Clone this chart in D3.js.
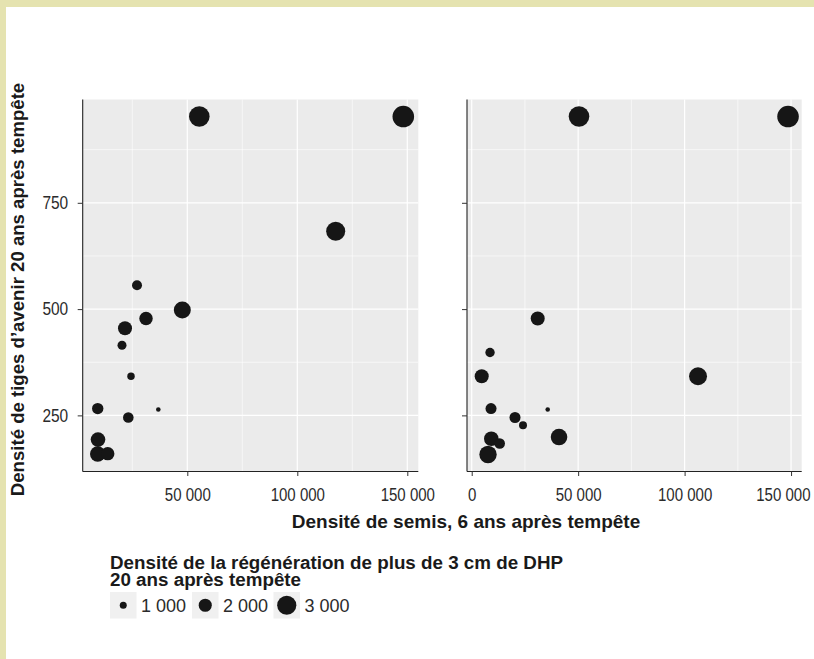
<!DOCTYPE html>
<html>
<head>
<meta charset="utf-8">
<script src="https://cdn.jsdelivr.net/npm/d3@7"></script>
<style>
  html, body { margin: 0; padding: 0; background: #ffffff; }
  svg { display: block; font-family: "Liberation Sans", Arial, Helvetica, sans-serif; }
</style>
</head>
<body>
<svg id="chart" width="814" height="659"></svg>
<script>
// Left panel: seedling density (x), future stems (y), regeneration > 3 cm DBH (size)
const leftSemis  = [55450, 148180, 117450, 47730, 27140, 31230, 21680, 20320, 24410, 36820, 9270, 23180, 9410, 9270, 13820];
const leftAvenir = [953, 953, 683, 498, 556, 478, 455, 415, 342, 264, 266, 245, 193, 159, 160];
const leftRegen  = [3230, 3390, 2970, 2640, 1490, 2050, 2150, 1330, 1070, 600, 1720, 1590, 2250, 2380, 2050];

// Right panel
const rightSemis  = [50400, 148580, 106300, 31000, 8600, 4700, 9070, 35700, 20340, 24100, 41010, 9210, 13150, 7660];
const rightAvenir = [953, 953, 342, 478, 398, 342, 266, 264, 245, 227, 199, 195, 184, 158];
const rightRegen  = [3230, 3390, 2800, 2150, 1390, 2150, 1660, 600, 1660, 1160, 2570, 2250, 1590, 2700];

// Axis breaks
const leftXTicks  = [50000, 100000, 150000];
const rightXTicks = [0, 50000, 100000, 150000];
const xMinor      = [25000, 75000, 125000];
const yTicks      = [250, 500, 750];
const yMinor      = [375, 625, 875];
const legendValues = [1000, 2000, 3000];

const yTitle = "Densité de tiges d’avenir 20 ans après tempête";
const xTitle = "Densité de semis, 6 ans après tempête";
const legendTitle = ["Densité de la régénération de plus de 3 cm de DHP", "20 ans après tempête"];

const fr = d3.formatLocale({ decimal: ",", thousands: " ", grouping: [3], currency: ["", " €"] });
const fmt = fr.format(",d");

const svg = d3.select("#chart");

// page frame
svg.append("rect").attr("x", 0).attr("y", 0).attr("width", 814).attr("height", 659).attr("fill", "#ffffff");
svg.append("rect").attr("x", 0).attr("y", 0).attr("width", 814).attr("height", 7).attr("fill", "#e5e3b0");
svg.append("rect").attr("x", 0).attr("y", 0).attr("width", 6).attr("height", 659).attr("fill", "#e5e3b0");

const plotTop = 99.5, plotBottom = 471.5;
const y = d3.scaleLinear().domain([118, 993]).range([plotBottom, plotTop]);
const r = d3.scaleLinear().domain([1000, 3000]).range([3.5, 9.6]);

const panels = [
  { left: 82.7, right: 418.3, domain: [2450, 155000], ticks: leftXTicks, semis: leftSemis, avenir: leftAvenir, regen: leftRegen, yLabels: true },
  { left: 467,  right: 801.7, domain: [-2210, 155000], ticks: rightXTicks, semis: rightSemis, avenir: rightAvenir, regen: rightRegen, yLabels: false }
];

const kx = 0.835; // horizontal narrowing of tick labels

panels.forEach(p => {
  const x = d3.scaleLinear().domain(p.domain).range([p.left, p.right]);
  const g = svg.append("g");

  g.append("rect")
    .attr("x", p.left).attr("y", plotTop)
    .attr("width", p.right - p.left).attr("height", plotBottom - plotTop)
    .attr("fill", "#ebebeb");

  // grid
  const inX = v => v >= p.domain[0] && v <= p.domain[1];
  g.selectAll(".gxm").data(xMinor.filter(inX)).join("line")
    .attr("x1", d => x(d)).attr("x2", d => x(d)).attr("y1", plotTop).attr("y2", plotBottom)
    .attr("stroke", "#ffffff").attr("stroke-width", 0.6);
  g.selectAll(".gym").data(yMinor).join("line")
    .attr("x1", p.left).attr("x2", p.right).attr("y1", d => y(d)).attr("y2", d => y(d))
    .attr("stroke", "#ffffff").attr("stroke-width", 0.6);
  g.selectAll(".gx").data(p.ticks.filter(inX)).join("line")
    .attr("x1", d => x(d)).attr("x2", d => x(d)).attr("y1", plotTop).attr("y2", plotBottom)
    .attr("stroke", "#ffffff").attr("stroke-width", 1.2);
  g.selectAll(".gy").data(yTicks).join("line")
    .attr("x1", p.left).attr("x2", p.right).attr("y1", d => y(d)).attr("y2", d => y(d))
    .attr("stroke", "#ffffff").attr("stroke-width", 1.2);

  // points
  const pts = p.semis.map((s, i) => ({ s, a: p.avenir[i], z: p.regen[i] }));
  g.selectAll("circle.pt").data(pts).join("circle")
    .attr("class", "pt")
    .attr("cx", d => x(d.s)).attr("cy", d => y(d.a)).attr("r", d => r(d.z))
    .attr("fill", "#161616");

  // x axis
  const xa = g.append("g").attr("transform", `translate(0,${plotBottom})`)
    .call(d3.axisBottom(x).tickValues(p.ticks).tickFormat(fmt).tickSize(4.5).tickPadding(12.5));
  xa.select(".domain").attr("stroke", "#222").attr("stroke-width", 1.1).attr("d", `M${p.left},0H${p.right}`);
  xa.selectAll(".tick line").attr("stroke", "#333").attr("stroke-width", 1);
  const xt = xa.selectAll(".tick text").attr("fill", "#2b2b2b").attr("font-size", 18)
    .attr("font-family", "\"Liberation Sans\", Arial, sans-serif").attr("dy", "0.71em")
    .attr("transform", `scale(${kx},1)`);
  // keep the last label inside the page
  xt.each(function (d) {
    const w = this.getComputedTextLength() * kx;
    const over = x(d) + w / 2 - 810;
    if (over > 0) d3.select(this).attr("x", -over / kx);
  });

  // y axis
  const ya = g.append("g").attr("transform", `translate(${p.left},0)`)
    .call(d3.axisLeft(y).tickValues(yTicks).tickFormat(p.yLabels ? d3.format("d") : () => "").tickSize(5).tickPadding(9.5));
  ya.select(".domain").attr("stroke", "#222").attr("stroke-width", 1.1).attr("d", `M0,${plotTop}V${plotBottom}`);
  ya.selectAll(".tick line").attr("stroke", "#333").attr("stroke-width", 1);
  const yt = ya.selectAll(".tick text").attr("fill", "#2b2b2b").attr("font-size", 18)
    .attr("font-family", "\"Liberation Sans\", Arial, sans-serif");
  yt.each(function () {
    const sel = d3.select(this);
    sel.attr("x", +sel.attr("x") / 0.86).attr("transform", "scale(0.86,1)");
  });
});

// axis titles
svg.append("text")
  .attr("transform", `translate(23.5,${(plotTop + plotBottom) / 2 + 4}) rotate(-90)`)
  .attr("text-anchor", "middle")
  .attr("font-size", 18.6).attr("font-weight", "bold").attr("fill", "#1a1a1a")
  .text(yTitle);

svg.append("text")
  .attr("x", 466).attr("y", 528)
  .attr("text-anchor", "middle")
  .attr("font-size", 19).attr("font-weight", "bold").attr("fill", "#1a1a1a")
  .text(xTitle);

// size legend
const lg = svg.append("g");
lg.append("text").attr("x", 110).attr("y", 568.5)
  .attr("font-size", 18.8).attr("font-weight", "bold").attr("fill", "#1a1a1a")
  .selectAll("tspan").data(legendTitle).join("tspan")
  .attr("x", 110).attr("dy", (d, i) => i === 0 ? 0 : 17.5)
  .text(d => d);

const keyX = [110, 192, 273.5];
legendValues.forEach((v, i) => {
  const k = lg.append("g").attr("transform", `translate(${keyX[i]},592)`);
  k.append("rect").attr("width", 26.5).attr("height", 26.5).attr("fill", "#f0f0f0");
  k.append("circle").attr("cx", 13.25).attr("cy", 13.25).attr("r", r(v)).attr("fill", "#161616");
  k.append("text").attr("x", 31).attr("y", 19.5)
    .attr("font-size", 18).attr("fill", "#2b2b2b")
    .text(fmt(v));
});
</script>
</body>
</html>
